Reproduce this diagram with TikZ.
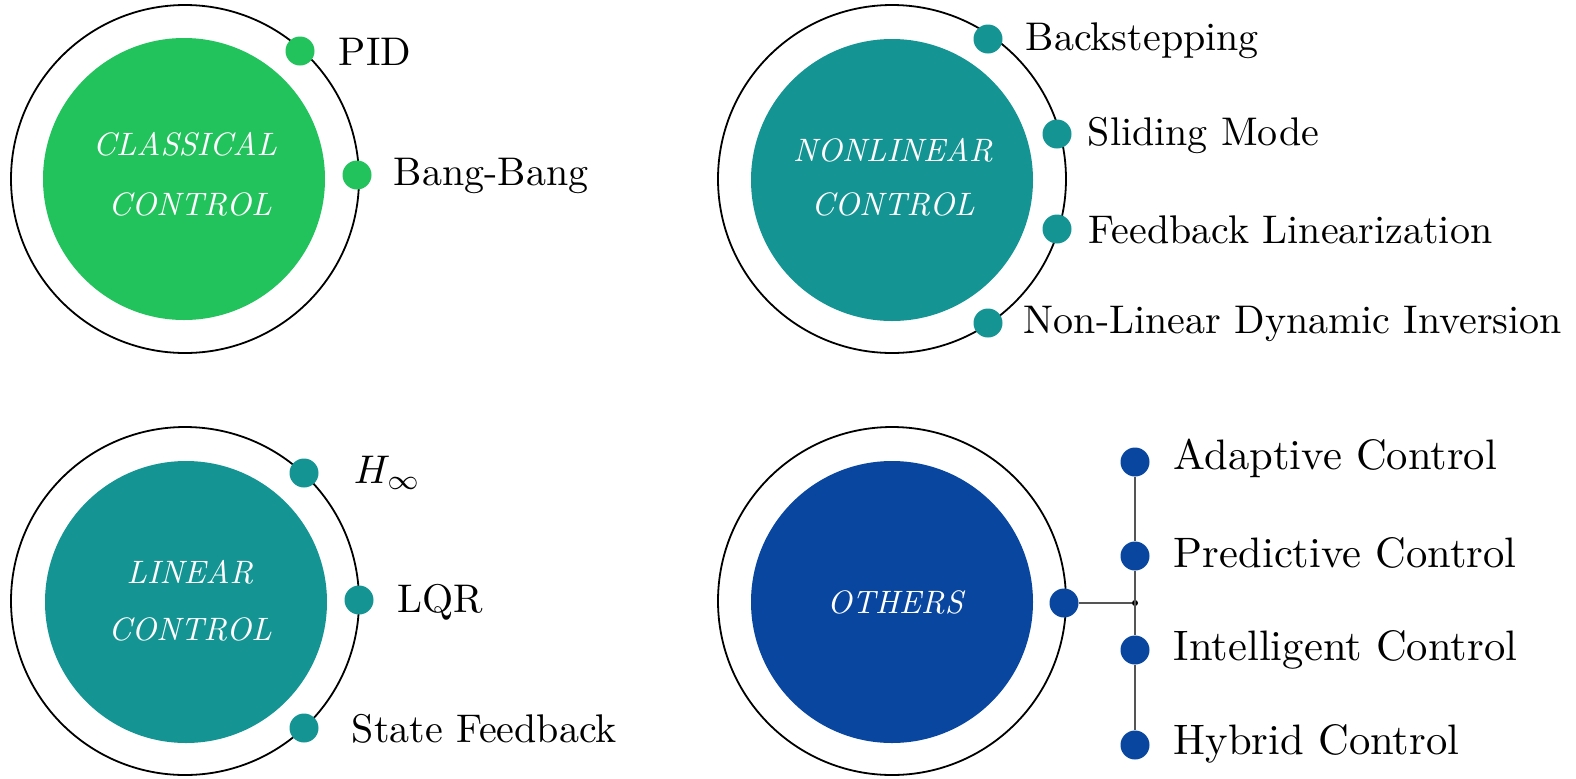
\documentclass[tikz,border=0pt]{standalone}
\definecolor{ccgreen}{RGB}{34,194,92}
\definecolor{ccteal}{RGB}{21,148,148}
\definecolor{ccblue}{RGB}{8,70,160}
\definecolor{ccline}{RGB}{85,85,85}
\begin{document}
\begin{tikzpicture}[x=0.5pt,y=-0.5pt,
  ring/.style={circle,draw=black,line width=0.9pt,minimum size=174pt,inner sep=0},
  core/.style={circle,fill=#1,minimum size=141pt,inner sep=0},
  dot/.style={circle,fill=#1,minimum size=14.5pt,inner sep=0},
  junction/.style={circle,fill=black,minimum size=3pt,inner sep=0},
  lbl/.style={anchor=base west,inner sep=0,scale=2,font=\fontsize{10}{12}\selectfont},
  lblbig/.style={anchor=base west,inner sep=0,scale=2.13,font=\fontsize{10}{12}\selectfont},
  ttl/.style={anchor=base,inner sep=0,text=white,scale=1.62,font=\fontsize{10}{12}\selectfont\itshape},
  conn/.style={draw=ccline,line width=1pt},
]
\useasboundingbox (0,0) rectangle (1576,778);

% ---- Classical control ----
\node[ring] (r1) at (185,179) {};
\node[core=ccgreen] (c1) at (184,179) {};
\node[ttl] (t1a) at (185,155) {CLASSICAL};
\node[ttl] (t1b) at (190,215) {CONTROL};
\node[dot=ccgreen] (pid) at (300,51) {};
\node[dot=ccgreen] (bang) at (357,175) {};
\node[lbl] (lpid) at (338,65) {PID};
\node[lbl] (lbang) at (393,185) {Bang-Bang};

% ---- Nonlinear control ----
\node[ring] (r2) at (892,179) {};
\node[core=ccteal] (c2) at (892,180) {};
\node[ttl] (t2a) at (893,161) {NONLINEAR};
\node[ttl] (t2b) at (893,215) {CONTROL};
\node[dot=ccteal] (back) at (988,39) {};
\node[dot=ccteal] (slide) at (1057,134) {};
\node[dot=ccteal] (fbl) at (1057,229) {};
\node[dot=ccteal] (ndi) at (988,323) {};
\node[lbl] (lback) at (1025,50) {Backstepping};
\node[lbl] (lslide) at (1087,145) {Sliding Mode};
\node[lbl] (lfbl) at (1088,243) {Feedback Linearization};
\node[lbl] (lndi) at (1023,333) {Non-Linear Dynamic Inversion};

% ---- Linear control ----
\node[ring] (r3) at (185,601) {};
\node[core=ccteal] (c3) at (186,602) {};
\node[ttl] (t3a) at (190,583) {LINEAR};
\node[ttl] (t3b) at (190,640) {CONTROL};
\node[dot=ccteal] (hinf) at (304,473) {};
\node[dot=ccteal] (lqr) at (359,600) {};
\node[dot=ccteal] (sfb) at (304,728) {};
\node[lbl] (lhinf) at (353,483) {$H_\infty$};
\node[lbl] (llqr) at (397,612) {LQR};
\node[lbl] (lsfb) at (351,742) {State Feedback};

% ---- Other approaches ----
\node[ring] (r4) at (892,601) {};
\node[core=ccblue] (c4) at (892,602) {};
\node[ttl] (t4) at (895,613) {OTHERS};
\node[dot=ccblue] (oth) at (1064,603) {};
\node[junction] (j) at (1135,603) {};
\node[dot=ccblue] (adp) at (1135,462) {};
\node[dot=ccblue] (prd) at (1135,556) {};
\node[dot=ccblue] (itl) at (1135,650) {};
\node[dot=ccblue] (hyb) at (1135,745) {};
\draw[conn] (oth) -- (j);
\draw[conn] (adp) -- (prd) -- (itl) -- (hyb);
\node[lblbig] (ladp) at (1173,469) {Adaptive Control};
\node[lblbig] (lprd) at (1173,567) {Predictive Control};
\node[lblbig] (litl) at (1173,660) {Intelligent Control};
\node[lblbig] (lhyb) at (1173,754) {Hybrid Control};
\end{tikzpicture}
\end{document}
